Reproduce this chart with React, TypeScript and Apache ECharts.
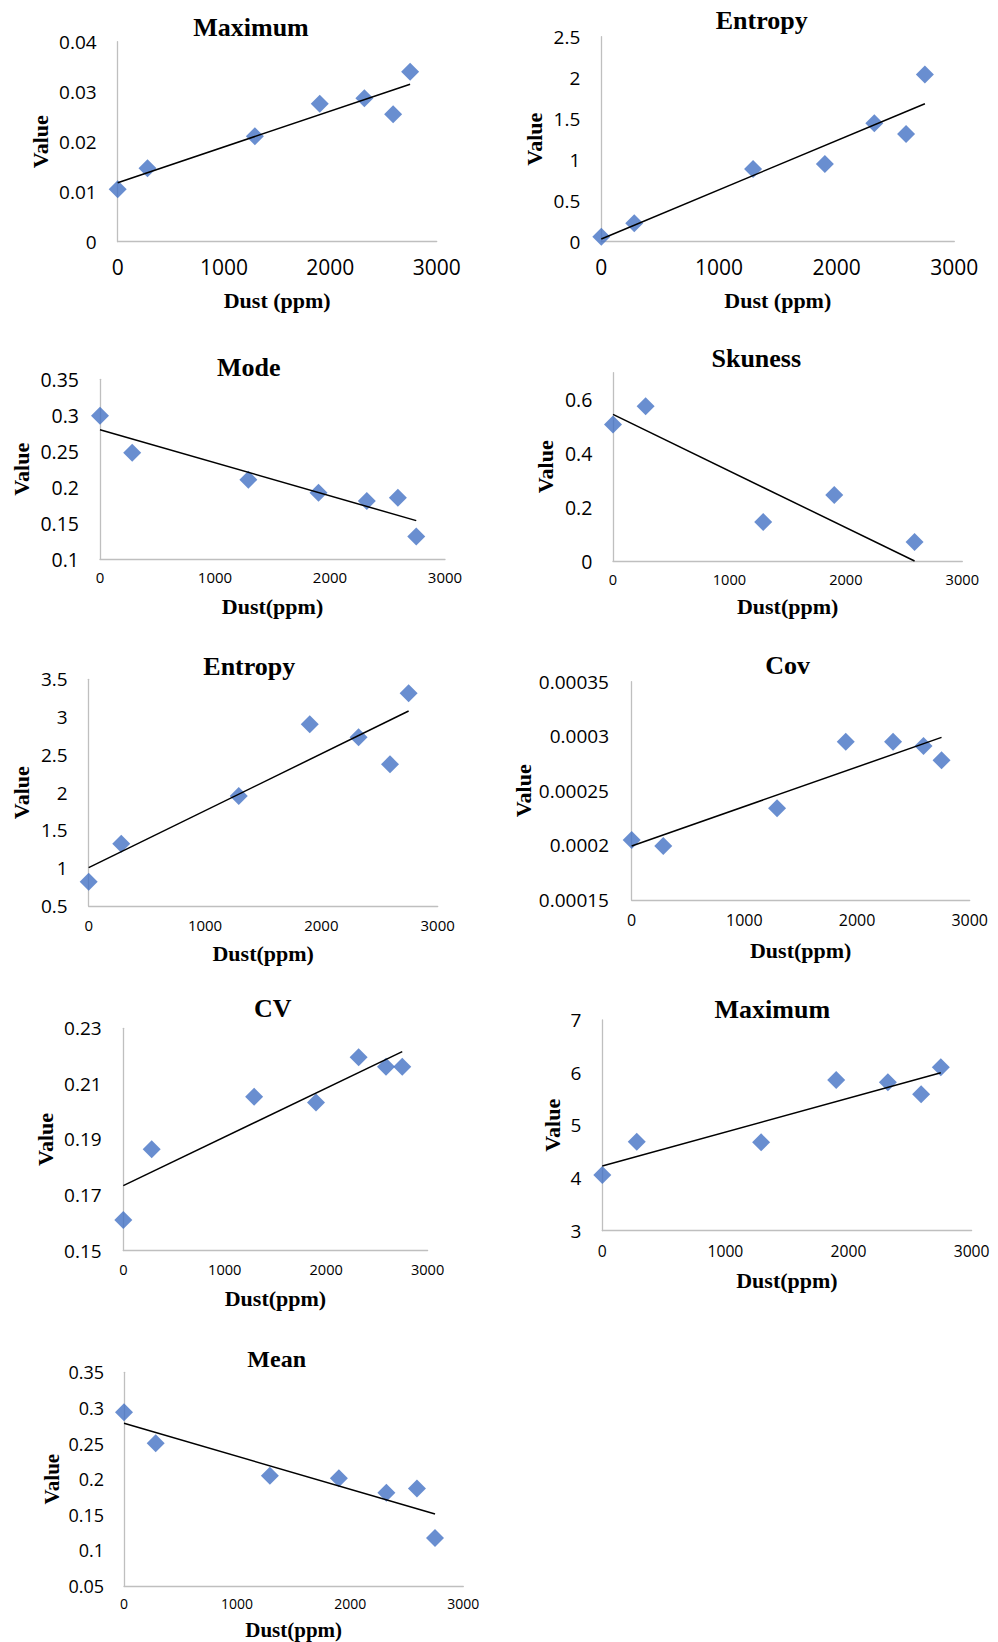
import React, { useEffect, useRef } from "react";
import * as echarts from "echarts";

// ---- data ----
const dust = [0, 280, 1290, 1900, 2320, 2590, 2750];
const dustSkuness = [0, 280, 1290, 1900, 2590];
const trendX = [0, 2750];
const trendXSkuness = [0, 2590];

const xTickRange = [0, 3000, 1000]; // min, max, interval

const maximumA = [0.0105, 0.0147, 0.0211, 0.0276, 0.0287, 0.0255, 0.034];
const maximumATrend = [0.0118, 0.0315];
const maximumARange = [0, 0.04, 0.01];

const entropyA = [0.061, 0.224, 0.886, 0.947, 1.443, 1.313, 2.04];
const entropyATrend = [0.033, 1.683];
const entropyARange = [0, 2.5, 0.5];

const mode = [0.2995, 0.248, 0.2106, 0.1926, 0.181, 0.1856, 0.1315];
const modeTrend = [0.28, 0.1537];
const modeRange = [0.1, 0.35, 0.05];

const skuness = [0.507, 0.575, 0.145, 0.245, 0.071];
const skunessTrend = [0.545, 0];
const skunessRange = [0, 0.7, 0.2];

const entropyB = [0.822, 1.325, 1.956, 2.904, 2.732, 2.375, 3.314];
const entropyBTrend = [1.007, 3.08];
const entropyBRange = [0.5, 3.5, 0.5];

const cov = [0.000205, 0.0001995, 0.000234, 0.000295, 0.000295, 0.000291, 0.000278];
const covTrend = [0.0001995, 0.000299];
const covRange = [0.00015, 0.00035, 0.00005];

const cv = [0.161, 0.1865, 0.2054, 0.2033, 0.2196, 0.2162, 0.2162];
const cvTrend = [0.1734, 0.2216];
const cvRange = [0.15, 0.23, 0.02];

const maximumB = [4.057, 4.69, 4.677, 5.861, 5.816, 5.589, 6.101];
const maximumBTrend = [4.228, 6.0];
const maximumBRange = [3, 7, 1];

const mean = [0.2938, 0.2503, 0.2049, 0.2012, 0.181, 0.1867, 0.1174];
const meanTrend = [0.2784, 0.1511];
const meanRange = [0.05, 0.35, 0.05];

// ---- layout ----
type Panel = {
  title: string;
  xName: string;
  x: number[];
  y: number[];
  tx: number[];
  ty: number[];
  yr: number[];
  grid: number[];
  titlePos: number[];
  titleFont: number;
  xFont: number;
  yFont: number;
  xMargin: number;
  yMargin: number;
  xGap: number;
  yGap: number;
  nameFont: number;
  hideMax?: boolean;
};

const panels: Panel[] = [
  { title: "Maximum", xName: "Dust (ppm)", x: dust, y: maximumA, tx: trendX, ty: maximumATrend, yr: maximumARange,
    grid: [117.7, 41.7, 319, 200], titlePos: [251, 27.5], titleFont: 26, xFont: 21, yFont: 19, xMargin: 14.5, yMargin: 21, xGap: 47.3, yGap: 66.7, nameFont: 22 },
  { title: "Entropy", xName: "Dust (ppm)", x: dust, y: entropyA, tx: trendX, ty: entropyATrend, yr: entropyARange,
    grid: [601.3, 36.7, 353, 205], titlePos: [761.7, 20], titleFont: 26, xFont: 21, yFont: 19, xMargin: 14.5, yMargin: 21, xGap: 47.3, yGap: 56.3, nameFont: 22 },
  { title: "Mode", xName: "Dust(ppm)", x: dust, y: mode, tx: trendX, ty: modeTrend, yr: modeRange,
    grid: [100, 379.3, 345, 180], titlePos: [248.7, 367.3], titleFont: 26, xFont: 15, yFont: 19.5, xMargin: 10.5, yMargin: 21, xGap: 36.4, yGap: 67.3, nameFont: 22 },
  { title: "Skuness", xName: "Dust(ppm)", x: dustSkuness, y: skuness, tx: trendXSkuness, ty: skunessTrend, yr: skunessRange,
    grid: [613, 372.7, 349.3, 188.3], titlePos: [756.3, 358.3], titleFont: 26, xFont: 14.6, yFont: 19.5, xMargin: 10.5, yMargin: 20.7, xGap: 34.7, yGap: 56.3, nameFont: 22, hideMax: true },
  { title: "Entropy", xName: "Dust(ppm)", x: dust, y: entropyB, tx: trendX, ty: entropyBTrend, yr: entropyBRange,
    grid: [88.7, 679.3, 349, 226.7], titlePos: [249.3, 666], titleFont: 26, xFont: 15, yFont: 19, xMargin: 11.5, yMargin: 21, xGap: 36, yGap: 56, nameFont: 22 },
  { title: "Cov", xName: "Dust(ppm)", x: dust, y: cov, tx: trendX, ty: covTrend, yr: covRange,
    grid: [631.7, 681.7, 338, 218.3], titlePos: [787.7, 665], titleFont: 26, xFont: 16, yFont: 19, xMargin: 12, yMargin: 22.7, xGap: 39, yGap: 92.4, nameFont: 22 },
  { title: "CV", xName: "Dust(ppm)", x: dust, y: cv, tx: trendX, ty: cvTrend, yr: cvRange,
    grid: [123.3, 1028.3, 304.3, 222.3], titlePos: [272.7, 1008.3], titleFont: 26, xFont: 14.6, yFont: 19, xMargin: 11, yMargin: 21.6, xGap: 36.6, yGap: 67.3, nameFont: 22 },
  { title: "Maximum", xName: "Dust(ppm)", x: dust, y: maximumB, tx: trendX, ty: maximumBTrend, yr: maximumBRange,
    grid: [602.3, 1020, 369.3, 210.7], titlePos: [772.3, 1009.3], titleFont: 26, xFont: 15.7, yFont: 19, xMargin: 12, yMargin: 21, xGap: 39, yGap: 39, nameFont: 22 },
  { title: "Mean", xName: "Dust(ppm)", x: dust, y: mean, tx: trendX, ty: meanTrend, yr: meanRange,
    grid: [124, 1372.3, 339.3, 213.7], titlePos: [276.7, 1359.3], titleFont: 24, xFont: 14, yFont: 18, xMargin: 10.3, yMargin: 20, xGap: 33.5, yGap: 61.8, nameFont: 21 },
];

const TICK_FONT = '"Open Sans", "Liberation Sans", sans-serif';
const SERIF = '"Liberation Serif", "Times New Roman", serif';
const AXIS_COLOR = "#BFBFBF";
const MARKER_COLOR = "#4472C4";

function buildOption() {
  const grid = panels.map((p) => ({
    left: p.grid[0],
    top: p.grid[1],
    width: p.grid[2],
    height: p.grid[3],
    containLabel: false,
  }));
  const nameStyle = (p: Panel) => ({
    fontFamily: SERIF,
    fontWeight: "bold",
    fontSize: p.nameFont,
    color: "#000",
  });
  const xAxis = panels.map((p, i) => ({
    gridIndex: i,
    type: "value",
    min: xTickRange[0],
    max: xTickRange[1],
    interval: xTickRange[2],
    name: p.xName,
    nameLocation: "middle",
    nameGap: p.xGap,
    nameTextStyle: nameStyle(p),
    axisLine: { show: true, onZero: false, lineStyle: { color: AXIS_COLOR, width: 1.3 } },
    axisTick: { show: false },
    splitLine: { show: false },
    axisLabel: {
      fontFamily: TICK_FONT,
      fontSize: p.xFont,
      color: "#000",
      margin: p.xMargin,
      formatter: (v: number) => String(v),
    },
  }));
  const yAxis = panels.map((p, i) => ({
    gridIndex: i,
    type: "value",
    min: p.yr[0],
    max: p.yr[1],
    interval: p.yr[2],
    name: "Value",
    nameLocation: "middle",
    nameGap: p.yGap,
    nameTextStyle: nameStyle(p),
    axisLine: { show: true, onZero: false, lineStyle: { color: AXIS_COLOR, width: 1.3 } },
    axisTick: { show: false },
    splitLine: { show: false },
    axisLabel: {
      fontFamily: TICK_FONT,
      fontSize: p.yFont,
      color: "#000",
      margin: p.yMargin,
      showMaxLabel: p.hideMax ? false : true,
    },
  }));
  const series: any[] = [];
  panels.forEach((p, i) => {
    series.push({
      type: "scatter",
      xAxisIndex: i,
      yAxisIndex: i,
      symbol: "diamond",
      symbolSize: 18,
      clip: false,
      itemStyle: { color: MARKER_COLOR },
      data: p.x.map((v, k) => [v, p.y[k]]),
      z: 2,
    });
    series.push({
      type: "line",
      xAxisIndex: i,
      yAxisIndex: i,
      showSymbol: false,
      symbol: "none",
      clip: false,
      lineStyle: { color: "#000", width: 1.5 },
      data: p.tx.map((v, k) => [v, p.ty[k]]),
      z: 3,
    });
  });
  const graphic = panels.map((p) => ({
    type: "text",
    x: p.titlePos[0],
    y: p.titlePos[1],
    style: {
      text: p.title,
      font: `bold ${p.titleFont}px ${SERIF}`,
      fill: "#000",
      align: "center",
      verticalAlign: "middle",
      textAlign: "center",
      textVerticalAlign: "middle",
    },
  }));
  return {
    animation: false,
    backgroundColor: "#ffffff",
    grid,
    xAxis,
    yAxis,
    series,
    graphic,
  };
}

export default function App() {
  const ref = useRef<HTMLDivElement>(null);
  useEffect(() => {
    if (!ref.current) return;
    const chart = echarts.init(ref.current, null, { renderer: "svg" });
    chart.setOption(buildOption() as any);
    return () => chart.dispose();
  }, []);
  return (
    <div
      ref={ref}
      style={{ position: "absolute", left: 0, top: 0, width: 998, height: 1642, background: "#fff" }}
    />
  );
}
